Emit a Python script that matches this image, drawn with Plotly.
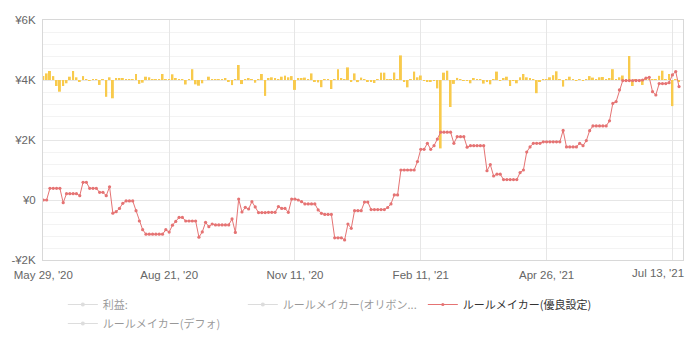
import plotly.graph_objects as go

# x-axis labels (one label every 38 trading points)
tick_labels = ["May 29, '20", "Aug 21, '20", "Nov 11, '20", "Feb 11, '21", "Apr 26, '21", "Jul 13, '21"]
tick_index = [0, 38, 76, 114, 152, 190]

# y-axis labels
y_ticks = [-2000, 0, 2000, 4000, 6000]
y_tick_text = ["-¥2K", "¥0", "¥2K", "¥4K", "¥6K"]

# daily profit bars
profit = [
    130, 220, 300, 130, -200, -390, -200, -110, 110, 300,
    90, -60, 130, 20, -30, 30, 10, -165, 10, -560,
    90, -610, 45, 35, 45, 10, 10, 10, 200, -130,
    -90, 110, 90, 10, 10, 10, 200, 10, 10, 190,
    50, 20, 10, -150, 30, 360, -145, -190, -110, 0,
    110, 30, 20, 10, 20, 50, -55, -170, 10, 500,
    -135, 30, 50, 30, -90, 10, 200, -530, 50, 90,
    45, 20, 110, 145, 90, 130, -330, 50, 50, 80,
    10, 220, -50, -80, -240, 10, 10, -300, 10, 355,
    50, 10, 420, -50, 220, -70, 80, 20, -50, -60,
    -100, 10, 245, 245, 10, 10, 250, 10, 820, -50,
    -245, 10, 280, 90, 150, -20, -50, -50, -20, -280,
    -2280, 245, 310, -900, -130, 70, 20, -20, -20, -110,
    50, 10, 10, -120, -40, -145, 10, 280, -30, 50,
    110, -200, -30, -110, 90, 200, 90, 40, 10, -440,
    -40, 10, 10, 90, 160, 290, 10, -220, 10, 110,
    10, -20, 10, -30, 10, 130, 80, 10, 90, 100,
    10, 40, 360, 10, 90, 150, 10, 800, -200, 30,
    -20, -165, 10, 10, 10, 10, 140, 310, 10, 200,
    -870, 10, -40,
]

# cumulative result of the tuned rule maker
rule_maker_tuned = [
    0, 0, 390, 390, 390, 390, -90, 210, 210, 210,
    210, 145, 590, 590, 390, 390, 390, 255, 255, 145,
    440, -440, -390, -280, -110, -30, -30, -30, -355, -700,
    -990, -1140, -1140, -1140, -1140, -1140, -1140, -990, -1070, -840,
    -715, -580, -580, -700, -700, -700, -700, -1240, -1065, -745,
    -890, -800, -830, -830, -830, -830, -830, -630, -1080, 30,
    -400, -245, -300, -55, -230, -420, -420, -420, -410, -410,
    -410, -220, -280, -280, -410, 30, 30, 0, -55, -130,
    -130, -130, -130, -330, -445, -480, -480, -480, -1260, -1260,
    -1260, -1330, -800, -945, -355, -355, -355, -70, -70, -320,
    -320, -320, -320, -320, -250, -130, 170, 170, 1000, 1000,
    1000, 1000, 1000, 1280, 1690, 1690, 1890, 1690, 1810, 2030,
    2260, 2260, 2260, 2260, 1890, 2110, 2110, 2110, 1760, 1810,
    1810, 1810, 1810, 1810, 975, 1180, 800, 860, 860, 680,
    680, 680, 680, 680, 915, 1000, 1600, 1770, 1890, 1890,
    1890, 1940, 1940, 1940, 1940, 1940, 1940, 2320, 1770, 1770,
    1770, 1770, 1890, 1810, 1980, 2310, 2470, 2470, 2470, 2470,
    2470, 2640, 3220, 3280, 3670, 3980, 3980, 3980, 3980, 3980,
    3980, 4000, 4060, 4090, 3610, 3500, 3880, 3880, 3880, 3910,
    4170, 4280, 3780,
]

x_index = list(range(len(rule_maker_tuned)))

FONT = "Liberation Sans, Arial, Noto Sans CJK JP, sans-serif"
RED = "#e57373"
YELLOW = "#f8ca4c"
GRID = "#e6e6e6"
MINOR = "#f3f3f3"
TICK_COLOR = "#666666"

fig = go.Figure()

# profit bars on a hidden axis whose zero sits at the ¥4K level
fig.add_trace(go.Bar(
    x=x_index, y=profit, yaxis="y", marker=dict(color=YELLOW, line=dict(width=0)),
    width=0.6, showlegend=False, hoverinfo="skip",
))

# legend-only series (hidden)
fig.add_trace(go.Scatter(
    x=[None], y=[None], yaxis="y2", name="利益:", mode="lines+markers",
    line=dict(color="#bbbbbb", width=1), marker=dict(size=4), visible="legendonly",
))
fig.add_trace(go.Scatter(
    x=[None], y=[None], yaxis="y2", name="ルールメイカー(オリボン...", mode="lines+markers",
    line=dict(color="#bbbbbb", width=1), marker=dict(size=4), visible="legendonly",
))
fig.add_trace(go.Scatter(
    x=x_index, y=rule_maker_tuned, yaxis="y2", name="ルールメイカー(優良設定)",
    mode="lines+markers", line=dict(color=RED, width=1),
    marker=dict(color=RED, size=3.2),
))
fig.add_trace(go.Scatter(
    x=[None], y=[None], yaxis="y2", name="ルールメイカー(デフォ)", mode="lines+markers",
    line=dict(color="#bbbbbb", width=1), marker=dict(size=4), visible="legendonly",
))

# the last date label is right-aligned to its tick so it stays inside the frame
axis_labels = tick_labels[:-1] + [""]
fig.add_annotation(
    x=tick_index[-1], xref="x", xanchor="right", xshift=14,
    y=0, yref="paper", yanchor="top", yshift=-5,
    text=tick_labels[-1], showarrow=False,
    font=dict(family=FONT, size=11.5, color=TICK_COLOR),
)

fig.update_layout(
    width=689, height=338,
    margin=dict(l=43, r=6, t=20, b=78, autoexpand=False),
    paper_bgcolor="white", plot_bgcolor="white",
    font=dict(family=FONT, size=11.5, color=TICK_COLOR),
    xaxis=dict(
        range=[-0.1, 193.2], tickmode="array", tickvals=tick_index, ticktext=axis_labels,
        showgrid=True, gridcolor=GRID, gridwidth=1,
        showline=True, linecolor="#d8d8d8", linewidth=1, mirror=True,
        ticks="", zeroline=False, ticklabelstandoff=4,
        automargin=False, tickfont=dict(size=11.5, color=TICK_COLOR),
    ),
    yaxis=dict(
        range=[-6000, 2000], visible=False, showgrid=False, zeroline=False,
    ),
    yaxis2=dict(
        overlaying="y", side="left", range=[-2000, 6000],
        tickmode="array", tickvals=y_ticks, ticktext=y_tick_text,
        showgrid=True, gridcolor=GRID, gridwidth=1,
        minor=dict(tickmode="linear", tick0=0, dtick=400, showgrid=True, gridcolor=MINOR, ticks=""),
        showline=True, linecolor="#d8d8d8", linewidth=1, mirror=True,
        zeroline=False, ticks="", ticklabelstandoff=4, automargin=False,
        tickfont=dict(size=11.5, color=TICK_COLOR),
    ),
    legend=dict(
        orientation="h", x=0.031, xanchor="left", y=-0.125, yanchor="top",
        entrywidth=135, entrywidthmode="pixels",
        font=dict(family="Noto Sans CJK JP, Liberation Sans, sans-serif", size=11, color="#333333"),
        bgcolor="rgba(0,0,0,0)", itemclick=False, itemdoubleclick=False,
    ),
    showlegend=True,
)

fig.write_html("out.html")
